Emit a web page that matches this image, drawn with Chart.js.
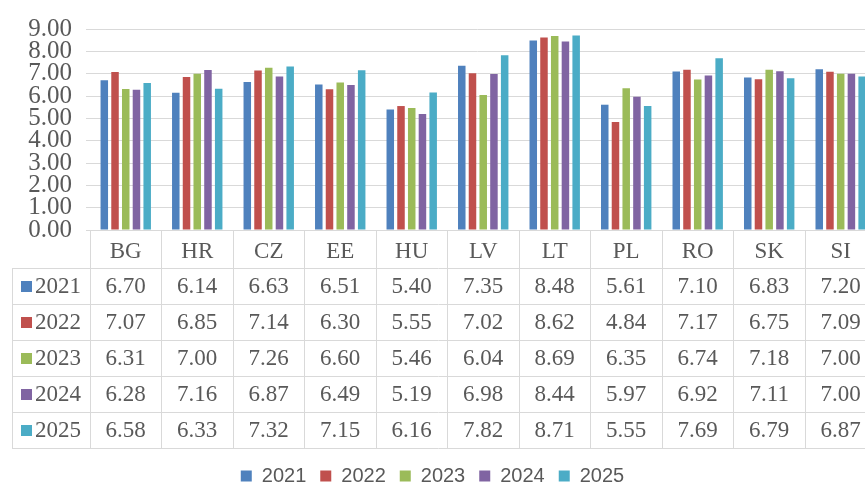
<!DOCTYPE html>
<html>
<head>
<meta charset="utf-8">
<script src="https://cdn.jsdelivr.net/npm/chart.js@4/dist/chart.umd.min.js"></script>
<style>
  html, body { margin: 0; padding: 0; background: #ffffff; overflow: hidden; }
  #wrap { width: 865px; height: 496px; }
</style>
</head>
<body>
<div id="wrap"><canvas id="c" width="865" height="496"></canvas></div>
<script>
const categories = ['BG', 'HR', 'CZ', 'EE', 'HU', 'LV', 'LT', 'PL', 'RO', 'SK', 'SI'];
const seriesNames = ['2021', '2022', '2023', '2024', '2025'];
const values2021 = [6.70, 6.14, 6.63, 6.51, 5.40, 7.35, 8.48, 5.61, 7.10, 6.83, 7.20];
const values2022 = [7.07, 6.85, 7.14, 6.30, 5.55, 7.02, 8.62, 4.84, 7.17, 6.75, 7.09];
const values2023 = [6.31, 7.00, 7.26, 6.60, 5.46, 6.04, 8.69, 6.35, 6.74, 7.18, 7.00];
const values2024 = [6.28, 7.16, 6.87, 6.49, 5.19, 6.98, 8.44, 5.97, 6.92, 7.11, 7.00];
const values2025 = [6.58, 6.33, 7.32, 7.15, 6.16, 7.82, 8.71, 5.55, 7.69, 6.79, 6.87];
const yTicks = [0, 1, 2, 3, 4, 5, 6, 7, 8, 9];
const colors = ['#4F81BD', '#C0504D', '#9BBB59', '#8064A2', '#4BACC6'];

const allValues = [values2021, values2022, values2023, values2024, values2025];
const textColor = '#595959';
const lineColor = '#D9D9D9';
const serif = "'Liberation Serif', 'Times New Roman', serif";

const datasets = seriesNames.map((name, i) => ({
  label: name,
  data: allValues[i].map((v, j) => ({ x: j, y: v })),
  backgroundColor: colors[i],
  borderWidth: 0,
  barPercentage: 0.7,
  categoryPercentage: 0.75
}));

const tablePlugin = {
  id: 'dataTable',
  afterDraw(chart) {
    const ctx = chart.ctx;
    const xs = chart.scales.x;
    const area = chart.chartArea;
    const top = area.bottom;
    const headerBottom = top + 38;
    const rowH = 36;
    const bottom = headerBottom + rowH * seriesNames.length;
    const leftEdge = 12;
    ctx.save();
    ctx.strokeStyle = lineColor;
    ctx.lineWidth = 1;
    ctx.beginPath();
    for (let k = 0; k <= categories.length; k++) {
      const px = Math.round(xs.getPixelForValue(k - 0.5)) + 0.5;
      ctx.moveTo(px, top);
      ctx.lineTo(px, bottom);
    }
    ctx.moveTo(leftEdge + 0.5, headerBottom);
    ctx.lineTo(leftEdge + 0.5, bottom);
    for (let r = 0; r <= seriesNames.length; r++) {
      const py = Math.round(headerBottom + r * rowH) + 0.5;
      ctx.moveTo(leftEdge, py);
      ctx.lineTo(chart.width, py);
    }
    ctx.stroke();

    ctx.font = "23px " + serif;
    ctx.textBaseline = 'middle';
    for (let r = 0; r < seriesNames.length; r++) {
      const cy = headerBottom + r * rowH + rowH / 2;
      ctx.fillStyle = colors[r];
      ctx.fillRect(21, Math.round(cy - 5), 11, 11);
      ctx.fillStyle = textColor;
      ctx.textAlign = 'left';
      ctx.fillText(seriesNames[r], 35, cy + 1);
      ctx.textAlign = 'center';
      for (let c = 0; c < categories.length; c++) {
        ctx.fillText(allValues[r][c].toFixed(2), xs.getPixelForValue(c), cy + 1);
      }
    }
    ctx.restore();
  }
};

new Chart(document.getElementById('c'), {
  type: 'bar',
  data: { datasets },
  plugins: [tablePlugin],
  options: {
    responsive: false,
    animation: false,
    layout: { padding: { top: 25, left: 0, right: 0, bottom: 0 } },
    plugins: {
      tooltip: { enabled: false },
      legend: {
        position: 'bottom',
        labels: {
          color: textColor,
          font: { family: "'Liberation Sans', Arial, sans-serif", size: 20 },
          boxWidth: 11,
          boxHeight: 11,
          padding: 14
        }
      }
    },
    scales: {
      x: {
        type: 'linear',
        min: -0.5,
        max: 10.34,
        offset: false,
        afterBuildTicks(s) { s.ticks = categories.map((c, i) => ({ value: i })); },
        afterFit(s) { s.height = 222; },
        grid: { display: false, offset: false },
        border: { display: true, color: lineColor },
        ticks: {
          autoSkip: false,
          maxRotation: 0,
          minRotation: 0,
          color: textColor,
          padding: 0,
          font: { family: serif, size: 23 },
          callback: (v) => categories[Math.round(v)]
        }
      },
      y: {
        min: 0,
        max: 9,
        afterBuildTicks(s) { s.ticks = yTicks.map(v => ({ value: v })); },
        afterFit(s) { s.width = 90; },
        grid: { color: lineColor, tickLength: 4, drawTicks: true },
        border: { display: false },
        ticks: {
          autoSkip: false,
          color: textColor,
          padding: 14,
          font: { family: serif, size: 25 },
          callback: (v) => Number(v).toFixed(2)
        }
      }
    }
  }
});
</script>
</body>
</html>
